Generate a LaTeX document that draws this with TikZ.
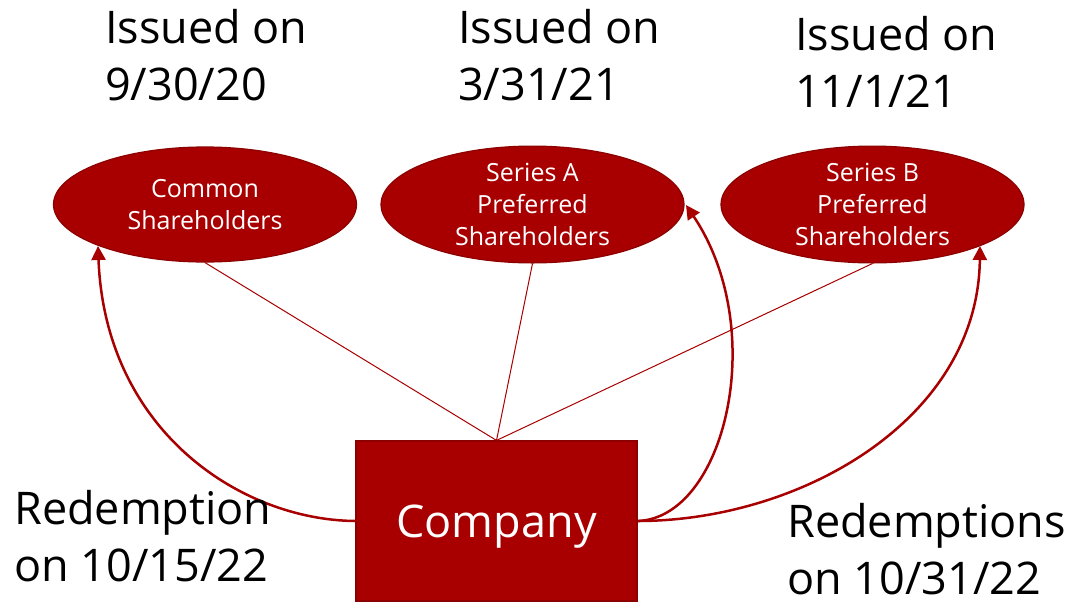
\documentclass[tikz,border=0pt]{standalone}
\usepackage{fontspec}
\setmainfont{Open Sans}
\usetikzlibrary{arrows.meta,shapes.geometric}
\definecolor{fillred}{HTML}{A80000}
\definecolor{edgered}{HTML}{8C0000}
\begin{document}
\begin{tikzpicture}[x=1pt,y=-1pt,
  holder/.style={ellipse, fill=fillred, draw=edgered, line width=1.2pt,
    minimum width=303pt, minimum height=115pt, inner sep=0pt, text=white,
    align=center, font=\fontsize{25}{32}\selectfont},
  company/.style={rectangle, fill=fillred, draw=edgered, line width=1.2pt,
    minimum width=281pt, minimum height=160pt, text=white, text depth=0pt,
    font=\fontsize{45}{56}\selectfont},
  biglabel/.style={anchor=base west, inner sep=0pt, align=left,
    font=\fontsize{45}{57}\selectfont},
  link/.style={draw=fillred, line width=1pt},
  redeem/.style={draw=fillred, line width=2.5pt, -{Triangle[length=14pt,width=14pt]}}
]
\useasboundingbox (0,0) rectangle (1073,603);

\node[holder] (common) at (205,204.5) {Common\\Shareholders};
\node[holder] (seriesA) at (532.5,204.5) {Series A\\Preferred\\Shareholders};
\node[holder] (seriesB) at (872.5,204.5) {Series B\\Preferred\\Shareholders};
\node[company] (comp) at (496.5,521) {Company};

\coordinate (top) at (comp.north);
\draw[link] (common.south) -- (top);
\draw[link] (seriesA.south) -- (top);
\draw[link] (seriesB.south) -- (top);

\coordinate (cL) at (98,246);
\coordinate (cA) at (686,205);
\coordinate (cB) at (980,246);
\draw[redeem] (comp.west) .. controls (240,520) and (105,430) .. (cL);
\draw[redeem] (comp.east) .. controls (725,518) and (770,330) .. (cA);
\draw[redeem] (comp.east) .. controls (800,521) and (978,420) .. (cB);

\node[biglabel] (i1) at (105,100) {Issued on\\9/30/20};
\node[biglabel] (i2) at (458,100) {Issued on\\3/31/21};
\node[biglabel] (i3) at (795,107) {Issued on\\11/1/21};
\node[biglabel] (r1) at (14,581) {Redemption\\on 10/15/22};
\node[biglabel] (r2) at (787,594) {Redemptions\\on 10/31/22};
\end{tikzpicture}
\end{document}
